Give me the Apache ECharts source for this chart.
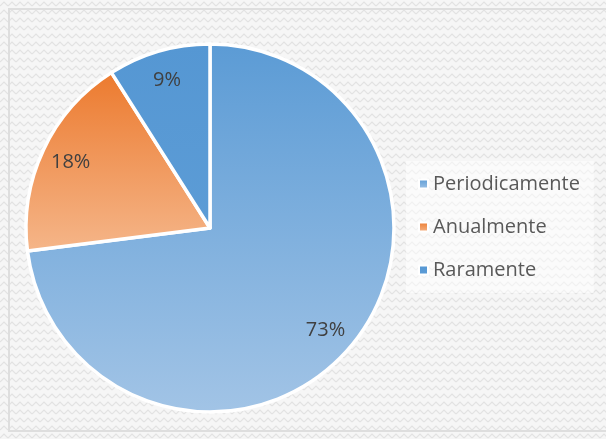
<!DOCTYPE html>
<html><head><meta charset="utf-8">
<script src="https://cdn.jsdelivr.net/npm/echarts@6/dist/echarts.min.js"></script>
<style>
html,body{margin:0;padding:0;background:#fff;}
#wrap{position:absolute;left:0;top:0;width:606px;height:439px;background:#fff;}
#frame{position:absolute;left:8px;top:8px;width:600px;height:424px;border-left:2px solid #dedede;border-top:2px solid #dedede;border-bottom:2px solid #dedede;box-sizing:border-box;}
#chart{position:absolute;left:0;top:0;width:606px;height:439px;}
</style></head>
<body><div id="wrap"><div id="chart"></div><div id="frame"></div></div>
<script>
const categories = ['Periodicamente', 'Anualmente', 'Raramente'];
const values = [73, 18, 9];
const labels = ['73%', '18%', '9%'];

const fills = [
  ['#5b9bd5', '#a2c4e6'],
  ['#ec7a2e', '#f5b68a'],
  ['#5597d3', '#5c9cd6']
];

function grad(c) {
  return {type:'linear', x:0, y:0, x2:0, y2:1,
    colorStops:[{offset:0,color:c[0]},{offset:1,color:c[1]}]};
}

// hatched background texture
const pc = document.createElement('canvas');
pc.width = 8; pc.height = 8;
const g = pc.getContext('2d');
g.fillStyle = '#f6f6f6'; g.fillRect(0,0,8,8);
g.strokeStyle = '#e2e2e2'; g.lineWidth = 1.1;
g.beginPath();
g.moveTo(0,6); g.lineTo(4,2); g.lineTo(8,6);
g.stroke();

const data = categories.map((n,i)=>({name:n, value:values[i], itemStyle:{color:grad(fills[i])}}));
const labelData = categories.map((n,i)=>({name:n, value:values[i], label:{formatter:labels[i]}}));

const chart = echarts.init(document.getElementById('chart'));
chart.setOption({
  animation:false,
  backgroundColor:{image:pc, repeat:'repeat'},
  legend:{
    orient:'vertical', left:406, top:161,
    data:categories,
    itemWidth:9, itemHeight:9, itemGap:23,
    padding:[13,14,13,12],
    backgroundColor:'rgba(255,255,255,0.5)',
    icon:'rect',
    itemStyle:{borderColor:'#ffffff', borderWidth:2},
    textStyle:{fontFamily:'Open Sans', fontSize:20, color:'#595959'}
  },
  series:[
    {
      type:'pie', center:[210,228], radius:[0,184], startAngle:90, clockwise:true,
      silent:true, data:data,
      itemStyle:{borderColor:'#ffffff', borderWidth:3.5},
      label:{show:false}, labelLine:{show:false}
    },
    {
      type:'pie', center:[210,228], radius:[118,184], startAngle:90, clockwise:true,
      silent:true, data:labelData,
      itemStyle:{color:'rgba(0,0,0,0)', borderWidth:0},
      label:{show:true, position:'inside', fontFamily:'Open Sans', fontSize:20, color:'#404040'},
      labelLine:{show:false}
    }
  ]
});
</script></body></html>
